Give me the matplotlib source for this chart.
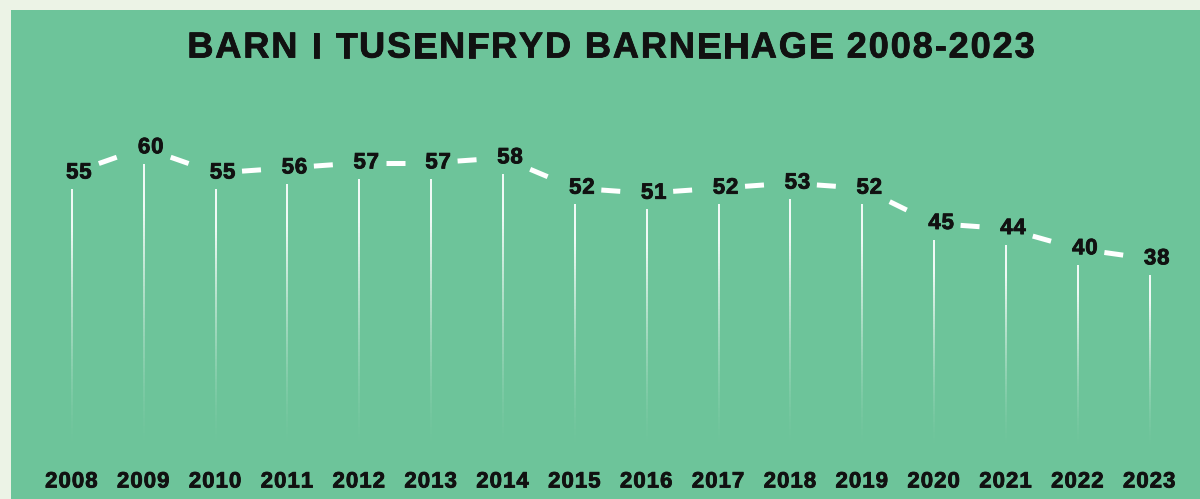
import numpy as np
import matplotlib.pyplot as plt
import matplotlib.patheffects as pe
from matplotlib.patches import Rectangle
from matplotlib.collections import LineCollection
from matplotlib import font_manager, ft2font
from matplotlib.font_manager import FontProperties

years = list(range(2008, 2024))
children = [55, 60, 55, 56, 57, 57, 58, 52, 51, 52, 53, 52, 45, 44, 40, 38]
title = 'BARN I TUSENFRYD BARNEHAGE 2008-2023'

plt.rcParams['font.family'] = ['Liberation Sans', 'DejaVu Sans']
ink = '#111111'
green = '#6dc49a'
heavy = [pe.withStroke(linewidth=0.6, foreground=ink)]

fpath = font_manager.findfont(FontProperties(family='Liberation Sans', weight='bold'))


def char_offsets(s, size, track):
    # centre of each glyph (pixels) relative to the centre of the whole string,
    # with extra letter spacing `track`
    f = ft2font.FT2Font(fpath)
    f.set_size(size, 100)
    advs = [f.load_char(ord(c)).linearHoriAdvance / 65536 for c in s]
    total = sum(advs) + track * (len(s) - 1)
    x = -total / 2
    out = []
    for a in advs:
        out.append(x + a / 2)
        x += a + track
    return out


fig = plt.figure(figsize=(12, 4.99), dpi=100, facecolor='#ecf3e6')
fig.add_artist(Rectangle((11/1200, 0), 1, 1 - 10/499, transform=fig.transFigure,
                         facecolor=green, edgecolor='none', zorder=0))

ax = fig.add_axes([0, 44/499, 1, 455/499])
ax.set_facecolor('none')
ax.set_xlim(2007.0, 2023.70)
ax.set_ylim(-0.84, 89.26)
ax.set_xticks([])
ax.set_yticks([])
for s in ax.spines.values():
    s.set_visible(False)

# drop lines fading towards the bottom
segs, cols = [], []
n = 80
for yr, v in zip(years, children):
    top = v - 3.2
    ys = np.linspace(0, top, n + 1)
    for i in range(n):
        t = (i + 0.5) / n
        segs.append([(yr, ys[i]), (yr, ys[i + 1])])
        cols.append((1, 1, 1, min(1.0, t ** 1.6 * 1.3)))
ax.add_collection(LineCollection(segs, colors=cols, linewidths=1.3))

# one white dash centred between neighbouring points
pts = ax.transData.transform(np.column_stack([years, children]))
inv = ax.transData.inverted()
half = 9.5
for p1, p2 in zip(pts[:-1], pts[1:]):
    m = (p1 + p2) / 2
    u = (p2 - p1) / np.hypot(*(p2 - p1))
    a, b = inv.transform([m - u * half, m + u * half])
    ax.plot([a[0], b[0]], [a[1], b[1]], color='white', lw=3.6, solid_capstyle='butt')

# value labels
for yr, v in zip(years, children):
    s = str(v)
    for c, dx in zip(s, char_offsets(s, 16, 0.8)):
        ax.annotate(c, (yr, v), xytext=((dx + 7) * 0.72, 0), textcoords='offset points',
                    ha='center', va='center', fontsize=16, fontweight='bold', color=ink,
                    path_effects=heavy)

# year labels
for yr in years:
    s = str(yr)
    for c, dx in zip(s, char_offsets(s, 16, 1.0)):
        ax.annotate(c, (yr, 17), xycoords=('data', 'figure pixels'),
                    xytext=((dx - 0.5) * 0.72, 0), textcoords='offset points',
                    ha='center', va='center', fontsize=16, fontweight='bold', color=ink,
                    path_effects=heavy)

# title with letter spacing
for c, dx in zip(title, char_offsets(title, 26, 1.9)):
    fig.text((611 + dx) / 1200, 1 - 48/499, c, ha='center', va='center',
             fontsize=26, fontweight='bold', color=ink, path_effects=heavy)

fig.savefig('out.png', dpi=100, facecolor=fig.get_facecolor())
